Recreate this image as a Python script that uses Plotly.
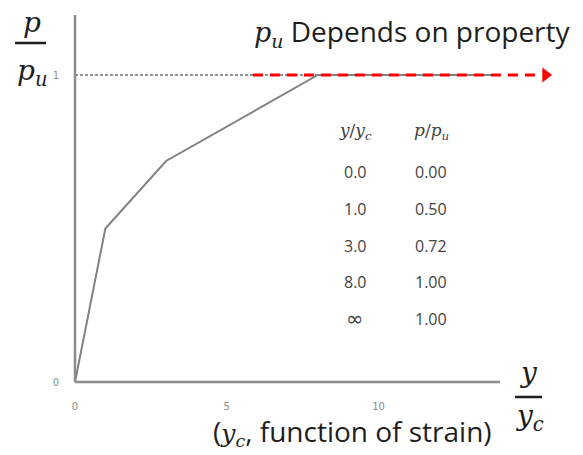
import plotly.graph_objects as go

# Normalised p-y curve: strain ratio y/yc against resistance ratio p/pu
yc_ratio = [0.0, 1.0, 3.0, 8.0]
pu_ratio = [0.00, 0.50, 0.72, 1.00, 1.00]
ratio_labels = ["0.0", "1.0", "3.0", "8.0", "∞"]
x_inf = 14            # strain ratio at which the "∞" row is drawn
x_ticks = [0, 5, 10]
y_ticks = [0, 1]

# page geometry
W, H = 583, 455
L, R, T, B = 60, 0, 10, 60
X0_PX, X_SCALE = 75, 30.36      # pixel of y/yc = 0, pixels per unit
Y0_PX, Y_SCALE = 382, 307       # pixel of p/pu = 0, pixels per unit

x_range = [(L - X0_PX) / X_SCALE, (W - R - X0_PX) / X_SCALE]
y_range = [(Y0_PX - (H - B)) / Y_SCALE, (Y0_PX - T) / Y_SCALE]


def paper(xp, yp):
    """pixel position on the page -> paper coordinates"""
    return (xp - L) / (W - L - R), ((H - B) - yp) / (H - T - B)


GRAY = "#828282"
AXIS = "#8c8c8c"
INK = "#1e1e1e"
SERIF = "DejaVu Serif"
SANS = "Open Sans"

fig = go.Figure()

# reference level p/pu = 1
fig.add_trace(go.Scatter(x=[0, x_inf], y=[1, 1], mode="lines",
                         line=dict(color="#6e6e6e", width=1.5, dash="3px,2px"),
                         hoverinfo="skip"))
# p-y curve
fig.add_trace(go.Scatter(x=yc_ratio + [x_inf], y=pu_ratio, mode="lines",
                         line=dict(color=GRAY, width=2)))
# ultimate resistance pu carried on to infinity
fig.add_trace(go.Scatter(x=[5.86, 15.3], y=[1, 1], mode="lines",
                         line=dict(color="#ff0000", width=3, dash="10px,7px"),
                         hoverinfo="skip"))
fig.add_trace(go.Scatter(x=[15.5], y=[1], mode="markers",
                         marker=dict(symbol="triangle-right", size=13, color="#ff0000"),
                         hoverinfo="skip"))

# axis lines
fig.add_shape(type="line", x0=0, x1=0, y0=0, y1=(Y0_PX - 15) / Y_SCALE,
              line=dict(color=AXIS, width=2.5))
fig.add_shape(type="line", x0=0, x1=x_inf, y0=0, y1=0,
              line=dict(color=AXIS, width=2.5))

ann = []

# table of curve points
col_x = [(355 - X0_PX) / X_SCALE, (431 - X0_PX) / X_SCALE]
head_y = (Y0_PX - 131) / Y_SCALE
row_y0 = (Y0_PX - 172) / Y_SCALE
row_step = 36.8 / Y_SCALE
ann.append(dict(x=col_x[0], y=head_y, text="<i>y</i>/<i>y<sub>c</sub></i>",
                font=dict(family=SERIF, size=17, color="#404040")))
ann.append(dict(x=col_x[1], y=head_y, text="<i>p</i>/<i>p<sub>u</sub></i>",
                font=dict(family=SERIF, size=17, color="#404040")))
for i, (lab, val) in enumerate(zip(ratio_labels, pu_ratio)):
    yy = row_y0 - i * row_step
    if lab == "∞":
        lab = '<span style="font-family:DejaVu Sans;font-size:21px">∞</span>'
    ann.append(dict(x=col_x[0], y=yy, text=lab,
                    font=dict(family=SANS, size=16, color="#444444")))
    ann.append(dict(x=col_x[1], y=yy, text=f"{val:.2f}",
                    font=dict(family=SANS, size=16, color="#444444")))
for a in ann:
    a.update(xref="x", yref="y", showarrow=False, xanchor="center", yanchor="middle")


# axis titles and captions
def text_at(xp, yp, text, family, size, xanchor="center", italic=False):
    px, py = paper(xp, yp)
    if italic:
        text = f"<i>{text}</i>"
    ann.append(dict(x=px, y=py, xref="paper", yref="paper", text=text, showarrow=False,
                    xanchor=xanchor, yanchor="middle",
                    font=dict(family=family, size=size, color=INK)))


text_at(32, 22, "p", SERIF, 28, italic=True)
text_at(32, 72, "p<sub>u</sub>", SERIF, 28, italic=True)
text_at(528, 372, "y", SERIF, 28, italic=True)
text_at(529, 418, "y<sub>c</sub>", SERIF, 28, italic=True)
text_at(252, 32,
        f'<span style="font-family:{SERIF};font-size:27px"><i>p<sub>u</sub></i></span> Depends on property',
        SANS, 28, xanchor="left")
text_at(211, 431,
        f'(<span style="font-family:{SERIF};font-size:25px"><i>y<sub>c</sub></i></span>, function of strain)',
        SANS, 28, xanchor="left")

# fraction bars
for (xa, xb, yb) in [(15, 46, 43), (515, 542, 397)]:
    p0 = paper(xa, yb)
    p1 = paper(xb, yb)
    fig.add_shape(type="line", xref="paper", yref="paper",
                  x0=p0[0], x1=p1[0], y0=p0[1], y1=p1[1],
                  line=dict(color=INK, width=2.5))

fig.update_layout(
    width=W, height=H,
    margin=dict(l=L, r=R, t=T, b=B),
    paper_bgcolor="white", plot_bgcolor="white",
    showlegend=False,
    annotations=ann,
    xaxis=dict(range=x_range, tickvals=x_ticks, showgrid=False, zeroline=False,
               showline=False, ticks="", ticklabelstandoff=4,
               tickfont=dict(family="DejaVu Sans", size=10, color=AXIS)),
    yaxis=dict(range=y_range, tickvals=y_ticks, showgrid=False, zeroline=False,
               showline=False, ticks="", ticklabelstandoff=0,
               tickfont=dict(family="DejaVu Sans", size=10, color=AXIS)),
)

fig.write_html("out.html")
